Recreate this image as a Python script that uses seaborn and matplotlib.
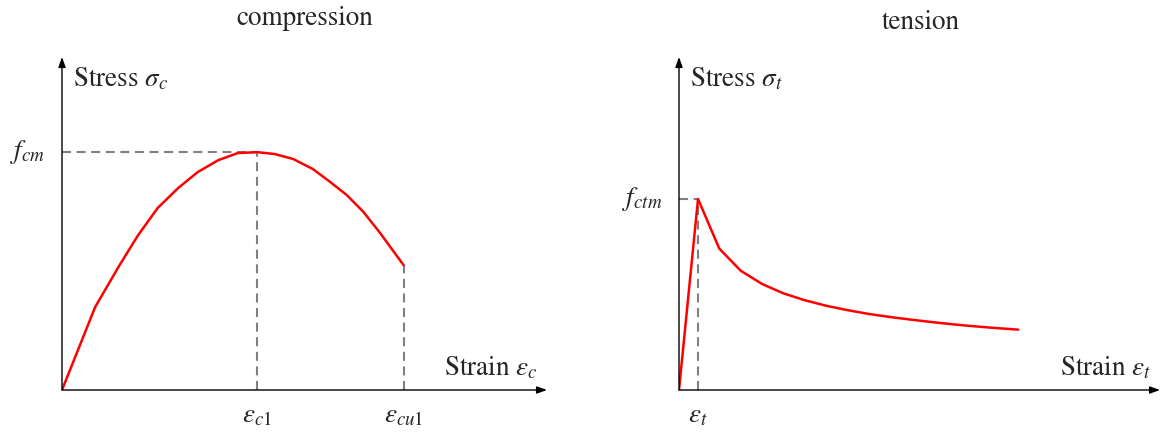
import matplotlib
matplotlib.use("Agg")
import matplotlib.pyplot as plt
import matplotlib.transforms as mtransforms
import pandas as pd
import seaborn as sns

# Compression branch: strain in permille, stress relative to f_cm
comp_strain = [0.0, 0.34, 0.59, 0.78, 0.98, 1.19, 1.39, 1.60, 1.80, 2.00,
               2.18, 2.37, 2.57, 2.75, 2.92, 3.09, 3.26, 3.50]
comp_stress = [0.0, 0.349, 0.525, 0.651, 0.765, 0.849, 0.916, 0.966, 0.996, 1.0,
               0.992, 0.971, 0.929, 0.874, 0.819, 0.748, 0.660, 0.525]
eps_c1 = 2.0
eps_cu1 = 3.5
f_cm = 1.0

# Tension branch: strain in multiples of eps_t, stress relative to f_ctm
tens_strain = [0.0, 1.0, 2.12, 3.25, 4.37, 5.49, 6.61, 7.74, 8.86, 9.98, 11.10,
               12.22, 13.35, 14.47, 15.59, 16.71, 17.84]
tens_stress = [0.0, 1.0, 0.74, 0.624, 0.555, 0.506, 0.470, 0.441, 0.418, 0.398,
               0.382, 0.368, 0.355, 0.343, 0.333, 0.324, 0.316]
eps_t = 1.0
f_ctm = 1.0

titles = ["compression", "tension"]
y_labels = [r"Stress $\sigma_c$", r"Stress $\sigma_t$"]
x_labels = [r"Strain $\varepsilon_c$", r"Strain $\varepsilon_t$"]

sns.set_theme(style="white")
plt.rcParams["font.family"] = ["STIXGeneral", "DejaVu Serif"]
plt.rcParams["mathtext.fontset"] = "stix"
plt.rcParams["lines.scale_dashes"] = False

FS = 19.5
W, H = 1166, 432
fig = plt.figure(figsize=(W / 100, H / 100), dpi=100)

def px_axes(left, right, top, bottom):
    return fig.add_axes([left / W, 1 - bottom / H, (right - left) / W, (bottom - top) / H])

ax_c = px_axes(62, 547, 57, 390)
ax_t = px_axes(679, 1160, 57, 390)

comp_df = pd.DataFrame({"strain": comp_strain, "stress": comp_stress})
tens_df = pd.DataFrame({"strain": tens_strain, "stress": tens_stress})

RED = "#ff0000"
GREY = "#808080"
DASH = (0, (6.5, 4.0))

sns.lineplot(data=comp_df, x="strain", y="stress", ax=ax_c, color=RED, lw=1.8,
             sort=False, zorder=3)
sns.lineplot(data=tens_df, x="strain", y="stress", ax=ax_t, color=RED, lw=1.8,
             sort=False, zorder=3)

ax_c.set_xlim(0, 4.97)
ax_c.set_ylim(0, 1.40)
ax_t.set_xlim(0, 25.3)
ax_t.set_ylim(0, 1.743)

# guide lines to characteristic points
GL = dict(color=GREY, lw=1.5, ls=DASH, zorder=2)
ax_c.plot([0, eps_c1], [f_cm, f_cm], **GL)
ax_c.plot([eps_c1, eps_c1], [0, f_cm], **GL)
ax_c.plot([eps_cu1, eps_cu1], [0, comp_stress[-1]], **GL)
ax_t.plot([0, eps_t], [f_ctm, f_ctm], **GL)
ax_t.plot([eps_t, eps_t], [0, f_ctm], **GL)

for ax, title, yl, xl in zip([ax_c, ax_t], titles, y_labels, x_labels):
    for s in ax.spines.values():
        s.set_visible(False)
    ax.patch.set_alpha(0)
    ax.set_xlabel("")
    ax.set_ylabel("")
    ax.grid(False)
    # axis arrows
    for tip in [(1, 0), (0, 1)]:
        ax.annotate("", xy=tip, xytext=(0, 0), xycoords="axes fraction",
                    arrowprops=dict(arrowstyle="-|>,head_length=0.5,head_width=0.18",
                                    color="black", lw=1.0, shrinkA=0, shrinkB=0),
                    annotation_clip=False)
    ax.tick_params(axis="both", which="both", direction="out", length=3.8,
                   width=1.5, color=GREY, labelsize=FS, pad=2)
    ax.text(0.0225, 0.913, yl, transform=ax.transAxes, ha="left", va="baseline",
            fontsize=FS)
    ax.text(0.981, 0.045, xl, transform=ax.transAxes, ha="right", va="baseline",
            fontsize=FS)

ax_c.set_xticks([eps_c1, eps_cu1], labels=["", ""])
ax_c.set_yticks([f_cm], labels=[""])
ax_t.set_xticks([eps_t], labels=[""])
ax_t.set_yticks([f_ctm], labels=[""])

def xtick_label(ax, x, s):
    tr = mtransforms.blended_transform_factory(ax.transData, ax.transAxes)
    ax.text(x, -0.096, s, transform=tr, ha="center", va="baseline", fontsize=FS)

def ytick_label(ax, y, s, frac):
    tr = mtransforms.blended_transform_factory(ax.transAxes, ax.transData)
    ax.text(frac, y, s, transform=tr, ha="right", va="center", fontsize=FS)

xtick_label(ax_c, eps_c1, r"$\varepsilon_{c1}$")
xtick_label(ax_c, eps_cu1, r"$\varepsilon_{cu1}$")
xtick_label(ax_t, eps_t, r"$\varepsilon_{t}$")
ytick_label(ax_c, f_cm, r"$f_{cm}$", -0.035)
ytick_label(ax_t, f_ctm, r"$f_{ctm}$", -0.035)

fig.text(304.5 / W, 1 - 25 / H, titles[0], ha="center", va="baseline", fontsize=FS)
fig.text(921 / W, 1 - 29 / H, titles[1], ha="center", va="baseline", fontsize=FS)

fig.savefig("out.png", dpi=100)
